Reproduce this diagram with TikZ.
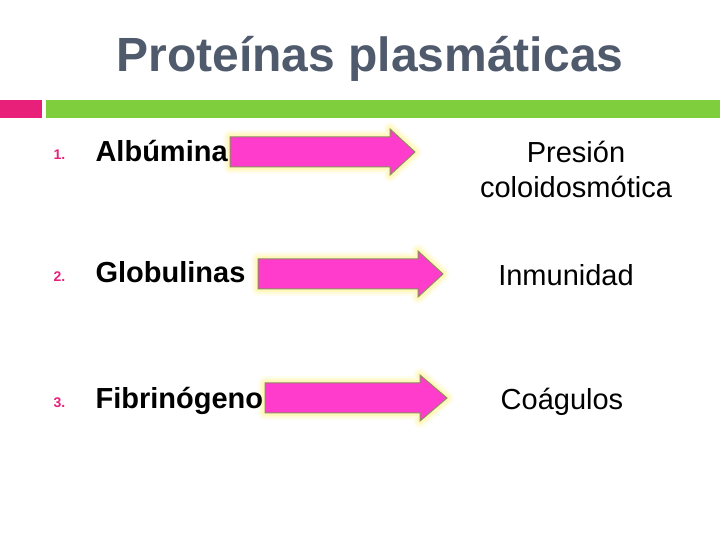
\documentclass[tikz,border=0pt]{standalone}
\usepackage{fontspec}
\setmainfont{Liberation Sans}
\definecolor{ttl}{HTML}{4F5A6C}
\definecolor{pk}{HTML}{E8207A}
\definecolor{gr}{HTML}{7ECE3E}
\definecolor{arr}{HTML}{FF3CCB}
\definecolor{arred}{HTML}{8C8C60}
\definecolor{glow}{HTML}{FFF27A}
\tikzset{
 num/.style={anchor=base west,text=pk,font=\fontsize{14}{16}\selectfont\bfseries},
 item/.style={anchor=base west,font=\fontsize{29}{33}\selectfont\bfseries},
 res/.style={align=center,font=\fontsize{29}{35}\selectfont},
}
\newcommand{\blockarrow}[4]{% x1 x2 tip ycenter
 \foreach \w/\o in {14/0.12,10/0.18,6/0.3}{
  \draw[glow,line width=\w pt,opacity=\o,line join=round]
   (#1pt,#4pt+15pt) -- (#2pt,#4pt+15pt) -- (#2pt,#4pt+23pt) -- (#3pt,#4pt) -- (#2pt,#4pt-23pt) -- (#2pt,#4pt-15pt) -- (#1pt,#4pt-15pt) -- cycle;}
 \draw[arred,fill=arr,line width=1pt]
   (#1pt,#4pt+15pt) -- (#2pt,#4pt+15pt) -- (#2pt,#4pt+23pt) -- (#3pt,#4pt) -- (#2pt,#4pt-23pt) -- (#2pt,#4pt-15pt) -- (#1pt,#4pt-15pt) -- cycle;}
\begin{document}
\begin{tikzpicture}
\useasboundingbox (0,0) rectangle (720pt,540pt);
\node[text=ttl,font=\fontsize{48}{54}\selectfont\bfseries] (title) at (370pt,481pt) {Proteínas plasmáticas};
\fill[pk] (0,422pt) rectangle (42pt,440pt);
\fill[gr] (46pt,422pt) rectangle (720pt,440pt);
\blockarrow{230}{390}{415}{388}
\blockarrow{258}{418}{443}{266}
\blockarrow{265}{420}{447}{142}
\node[num] (n1) at (50pt,380pt) {1.};
\node[num] (n2) at (50pt,258pt) {2.};
\node[num] (n3) at (50pt,132pt) {3.};
\node[item] (a1) at (92pt,378pt) {Albúmina};
\node[item] (a2) at (92pt,257pt) {Globulinas};
\node[item] (a3) at (92pt,131pt) {Fibrinógeno};
\node[res] (r1) at (576pt,371pt) {Presión\\coloidosmótica};
\node[res] (r2) at (566pt,265pt) {Inmunidad};
\node[res] (r3) at (562pt,138pt) {Coágulos};
\end{tikzpicture}
\end{document}
